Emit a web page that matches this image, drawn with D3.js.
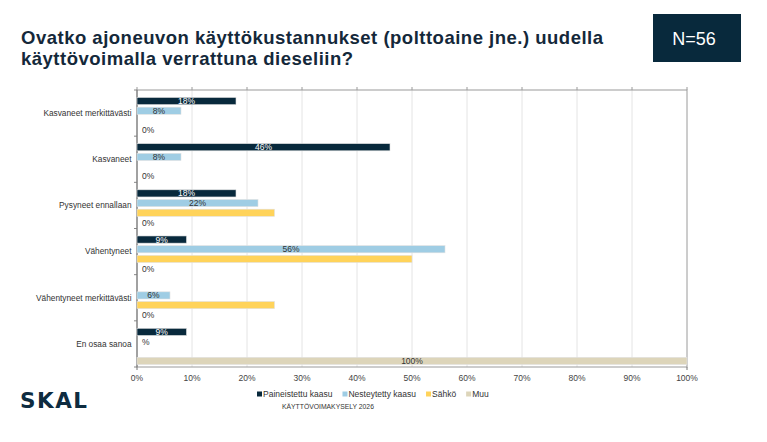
<!DOCTYPE html>
<html>
<head>
<meta charset="utf-8">
<script src="https://cdn.jsdelivr.net/npm/d3@7"></script>
<style>
  body { margin: 0; background: #fff; }
  svg { display: block; font-family: "Liberation Sans", Arial, sans-serif; }
</style>
</head>
<body>
<svg id="chart" width="767" height="442"></svg>
<script>
// categories (top to bottom)
const categories = ["Kasvaneet merkittävästi", "Kasvaneet", "Pysyneet ennallaan",
                    "Vähentyneet", "Vähentyneet merkittävästi", "En osaa sanoa"];
const seriesNames = ["Paineistettu kaasu", "Nesteytetty kaasu", "Sähkö", "Muu"];

// values in %
const paineistettu = [18, 46, 18, 9, 0, 9];
const nesteytetty = [8, 8, 22, 56, 6, 0];
const sahko = [0, 0, 25, 50, 25, 0];
const muu = [0, 0, 0, 0, 0, 100];

// data labels as they appear in the original (null = no label)
const paineistettuLabels = ["18%", "46%", "18%", "9%", null, "9%"];
const nesteytettyLabels = ["8%", "8%", "22%", "56%", "6%", "%"];
const sahkoLabels = [null, null, null, null, null, null];
const muuLabels = ["0%", "0%", "0%", "0%", "0%", "100%"];

const xTicks = [0, 10, 20, 30, 40, 50, 60, 70, 80, 90, 100];

const colors = ["#08293c", "#9fcde4", "#ffd35a", "#ddd5ba"];
const textColors = ["#ffffff", "#333333", "#333333", "#333333"];

const allValues = [paineistettu, nesteytetty, sahko, muu];
const allLabels = [paineistettuLabels, nesteytettyLabels, sahkoLabels, muuLabels];

const svg = d3.select("#chart");
const plot = {left: 137, right: 687, top: 90, bottom: 367};

// title
const title = svg.append("text")
  .attr("x", 21).attr("y", 44)
  .attr("font-size", 18.5).attr("font-weight", "bold")
  .attr("letter-spacing", 0.5)
  .attr("fill", "#14283a");
title.append("tspan").attr("x", 21).text("Ovatko ajoneuvon käyttökustannukset (polttoaine jne.) uudella");
title.append("tspan").attr("x", 21).attr("dy", 21).text("käyttövoimalla verrattuna dieseliin?");

// N box
svg.append("rect")
  .attr("x", 653).attr("y", 14).attr("width", 88).attr("height", 48)
  .attr("fill", "#08293c");
svg.append("text")
  .attr("x", 694).attr("y", 45)
  .attr("text-anchor", "middle")
  .attr("font-size", 18).attr("fill", "#fff")
  .text("N=56");

// scales
let x = d3.scaleLinear().domain([0, 100]).range([plot.left, plot.right]);
let y0 = d3.scaleBand().domain(categories).range([plot.top, plot.bottom]);
let y1 = d3.scaleBand().domain(d3.range(seriesNames.length))
  .range([6.5, y0.bandwidth() - 1.5]).paddingInner(0.26).paddingOuter(0.1);

// grid lines
svg.append("g")
  .selectAll("line")
  .data(xTicks.slice(1, -1)).enter()
  .append("line")
  .attr("x1", d => x(d)).attr("x2", d => x(d))
  .attr("y1", plot.top).attr("y2", plot.bottom)
  .attr("stroke", "#e4e4e4").attr("stroke-width", 1);

// plot border
svg.append("rect")
  .attr("x", plot.left).attr("y", plot.top)
  .attr("width", plot.right - plot.left).attr("height", plot.bottom - plot.top)
  .attr("fill", "none").attr("stroke", "#9a9a9a").attr("stroke-width", 1);

// top ticks
svg.append("g")
  .selectAll("line")
  .data(xTicks).enter()
  .append("line")
  .attr("x1", d => x(d)).attr("x2", d => x(d))
  .attr("y1", plot.top - 3).attr("y2", plot.top)
  .attr("stroke", "#9a9a9a");

// left axis: ticks at category boundaries
svg.append("g")
  .selectAll("line")
  .data(categories.map(c => y0(c)).concat([plot.bottom])).enter()
  .append("line")
  .attr("x1", plot.left - 3).attr("x2", plot.left)
  .attr("y1", d => d).attr("y2", d => d)
  .attr("stroke", "#888");

svg.append("line")
  .attr("x1", plot.left).attr("x2", plot.left)
  .attr("y1", plot.top).attr("y2", plot.bottom + 3)
  .attr("stroke", "#777");
svg.append("line")
  .attr("x1", plot.right).attr("x2", plot.right)
  .attr("y1", plot.bottom).attr("y2", plot.bottom + 3)
  .attr("stroke", "#777");

// category labels
svg.append("g")
  .selectAll("text")
  .data(categories).enter()
  .append("text")
  .attr("x", plot.left - 5.5)
  .attr("y", d => y0(d) + y0.bandwidth() / 2)
  .attr("dy", "0.35em")
  .attr("text-anchor", "end")
  .attr("font-size", 8.3).attr("fill", "#333")
  .text(d => d);

// x tick labels
svg.append("g")
  .selectAll("text")
  .data(xTicks).enter()
  .append("text")
  .attr("x", d => x(d)).attr("y", 381)
  .attr("text-anchor", "middle")
  .attr("font-size", 8.5).attr("fill", "#444")
  .text(d => d + "%");

// bars
let cells = [];
categories.forEach((c, ci) => {
  allValues.forEach((vals, si) => {
    cells.push({cat: c, s: si, v: vals[ci], label: allLabels[si][ci]});
  });
});

let bars = svg.append("g");
bars.selectAll("rect")
  .data(cells.filter(d => d.v > 0)).enter()
  .append("rect")
  .attr("x", x(0))
  .attr("y", d => y0(d.cat) + y1(d.s))
  .attr("width", d => x(d.v) - x(0))
  .attr("height", y1.bandwidth())
  .attr("fill", d => colors[d.s])
  .attr("stroke", "#e2e2e2").attr("stroke-width", 0.6);

bars.selectAll("text")
  .data(cells.filter(d => d.label)).enter()
  .append("text")
  .attr("x", d => d.v > 0 ? (x(0) + x(d.v)) / 2 : x(0) + 5)
  .attr("y", d => y0(d.cat) + y1(d.s) + y1.bandwidth() / 2)
  .attr("dy", "0.36em")
  .attr("text-anchor", d => d.v > 0 ? "middle" : "start")
  .attr("font-size", 8.5)
  .attr("fill", d => d.v > 0 ? textColors[d.s] : "#333")
  .text(d => d.label);

// legend
let legend = svg.append("g").attr("transform", "translate(257,394)");
let lx = 0;
seriesNames.forEach((name, i) => {
  let g = legend.append("g").attr("transform", `translate(${lx},0)`);
  g.append("rect").attr("x", 0).attr("y", -2.5).attr("width", 5).attr("height", 5)
    .attr("fill", colors[i]);
  let t = g.append("text").attr("x", 6).attr("y", 3)
    .attr("font-size", 8.5).attr("fill", "#333").text(name);
  lx += 6 + t.node().getComputedTextLength() + 10;
});

// footer
svg.append("text")
  .attr("x", 282).attr("y", 409)
  .attr("font-size", 6.8).attr("fill", "#333")
  .text("KÄYTTÖVOIMAKYSELY 2026");

// logo
svg.append("text")
  .attr("x", 20).attr("y", 408)
  .attr("font-size", 21.5).attr("font-weight", "bold")
  .attr("font-family", "'DejaVu Sans', sans-serif")
  .attr("letter-spacing", 1.5)
  .attr("fill", "#0e2c40")
  .text("SKAL");
</script>
</body>
</html>
